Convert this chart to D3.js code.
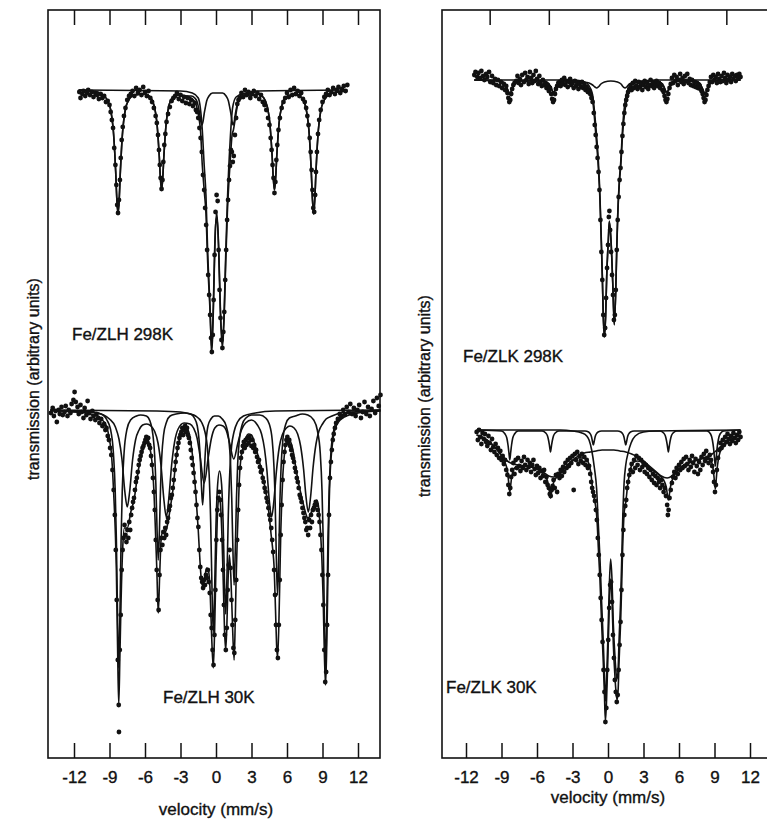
<!DOCTYPE html>
<html>
<head>
<meta charset="utf-8">
<script src="https://cdn.jsdelivr.net/npm/d3@7"></script>
<style>
  body { margin: 0; background: #fff; }
  svg { display: block; }
</style>
</head>
<body>
<svg id="chart" width="767" height="820"></svg>
<script>
// velocity (mm/s), transmission (arbitrary units, baseline = 100)

// ---- Fe/ZLH 298K ----
const zlh298Points = [[-11.55,99.8],[-11.45,99.2],[-11.3,99.6],[-11.2,99.9],[-11.05,99.4],[-10.9,99.7],[-10.8,100],[-10.65,99.5],[-10.5,99.8],[-10.35,99.3],[-10.2,99.7],[-10.05,99.5],[-9.9,99.1],[-9.75,99.6],[-9.6,99.2],[-9.45,99.4],[-9.3,98.8],[-9.15,98.9],[-9,98.5],[-8.9,97.8],[-8.8,97],[-8.7,96.2],[-8.6,94.2],[-8.5,92.5],[-8.42,90.5],[-8.35,88.5],[-8.28,87.7],[-8.2,89],[-8.12,91],[-8.05,93.2],[-7.97,95],[-7.88,96.3],[-7.78,97.4],[-7.65,98.2],[-7.5,99],[-7.35,99.4],[-7.2,99.6],[-7.05,99.9],[-6.9,99.4],[-6.75,100.2],[-6.6,99.7],[-6.45,100],[-6.3,99.5],[-6.15,100.3],[-6,99.8],[-5.85,99.4],[-5.7,99.9],[-5.55,99.2],[-5.4,98.8],[-5.25,98.2],[-5.1,97.4],[-5,96.7],[-4.9,95.5],[-4.82,94],[-4.75,92.5],[-4.68,91.2],[-4.6,90.1],[-4.52,91],[-4.45,92.8],[-4.37,94.5],[-4.28,95.6],[-4.18,96.8],[-4.05,97.6],[-3.9,98.3],[-3.75,98.9],[-3.6,99.2],[-3.45,99.4],[-3.3,99.7],[-3.15,99.1],[-3,99.5],[-2.85,98.9],[-2.7,99.3],[-2.55,98.7],[-2.4,99.2],[-2.25,98.6],[-2.1,99],[-1.95,98.4],[-1.8,98.7],[-1.7,98],[-1.6,97.8],[-1.5,97.2],[-1.4,96.2],[-1.3,95.2],[-1.2,93.8],[-1.1,91.5],[-1,90],[-0.92,88.2],[-0.83,86.5],[-0.75,84],[-0.66,81.5],[-0.58,79.5],[-0.5,77.5],[-0.42,75.2],[-0.35,73.8],[-0.27,75.5],[-0.2,79],[-0.12,83.5],[-0.04,87.8],[0.05,89.5],[0.14,88.9],[0.22,84],[0.3,80],[0.38,77.2],[0.46,75],[0.54,74.2],[0.62,75.8],[0.7,77.8],[0.78,81],[0.86,84],[0.94,87],[1.02,89],[1.1,91],[1.18,92.4],[1.26,94],[1.34,93.8],[1.42,92.8],[1.5,93.4],[1.6,95.5],[1.7,97.2],[1.8,98.6],[1.9,99],[2,99.2],[2.15,99.7],[2.3,99.3],[2.45,100],[2.6,99.5],[2.75,99.8],[2.9,99.2],[3.05,99.6],[3.2,99.9],[3.35,99.4],[3.5,99.7],[3.65,99.1],[3.8,99.5],[3.95,98.8],[4.1,98.5],[4.25,98],[4.4,97.2],[4.52,96.5],[4.62,95.2],[4.7,94],[4.78,92.5],[4.86,91.2],[4.94,89.7],[5.02,90.8],[5.1,93],[5.18,94.5],[5.28,96],[5.4,97.2],[5.55,98.2],[5.7,98.8],[5.85,99.2],[6,99.7],[6.15,99.3],[6.3,100],[6.45,99.5],[6.6,100.2],[6.75,99.6],[6.9,99.9],[7.05,99.4],[7.2,99.7],[7.35,99.1],[7.5,98.8],[7.62,98.2],[7.72,97.4],[7.82,96.5],[7.92,95.2],[8,93.8],[8.08,92],[8.15,90],[8.22,88.2],[8.3,87.8],[8.38,89.5],[8.45,91.8],[8.53,93.8],[8.62,95.6],[8.72,97],[8.85,98],[9,98.8],[9.15,99.3],[9.3,99.6],[9.45,100],[9.6,99.5],[9.75,99.8],[9.9,100.2],[10.05,99.6],[10.2,100],[10.35,100.3],[10.5,99.7],[10.65,100.1],[10.8,100.4],[10.95,99.9],[11.1,100.5]]

const zlh298Fit = [[-11.6,100],[-10,99.8],[-9.68,99.6],[-9.18,99],[-8.88,97.9],[-8.68,96],[-8.56,93.8],[-8.48,91.9],[-8.38,89.1],[-8.28,87.6],[-8.18,89.1],[-8.08,91.9],[-8,93.8],[-7.88,96],[-7.68,97.9],[-7.38,99],[-6.88,99.5],[-6,99.6],[-5.5,99.2],[-5.2,98.3],[-5,96.8],[-4.88,95],[-4.8,93.5],[-4.7,91.2],[-4.6,90],[-4.5,91.2],[-4.4,93.5],[-4.32,95],[-4.2,96.8],[-4,98.3],[-3.7,99.2],[-3.2,99.5],[-2.5,99.4],[-2,99.1],[-1.7,98.6],[-1.45,97.3],[-1.3,95.8],[-1.16,92.5],[-1,90],[-0.85,87.7],[-0.7,82.7],[-0.5,77.7],[-0.42,75],[-0.37,73.7],[-0.3,75],[-0.23,77.7],[-0.11,83.7],[-0.03,86.5],[0.06,87.3],[0.15,86.2],[0.23,83.7],[0.37,77.7],[0.47,75.2],[0.54,74.3],[0.62,75.5],[0.7,77.7],[0.82,82.7],[0.96,87.7],[1.1,91],[1.19,92.7],[1.36,95.5],[1.47,96],[1.65,97.3],[1.86,98.7],[2.2,99.3],[2.7,99.5],[3.3,99.5],[3.54,99.6],[4.04,99.2],[4.34,98.3],[4.54,96.8],[4.66,95],[4.74,93.5],[4.84,91.2],[4.94,90],[5.04,91.2],[5.14,93.5],[5.22,95],[5.34,96.8],[5.54,98.3],[5.84,99.2],[6.34,99.5],[6.85,99.5],[7.35,99],[7.65,97.9],[7.85,96],[7.97,93.8],[8.05,91.9],[8.15,89.1],[8.25,87.6],[8.35,89.1],[8.45,91.9],[8.53,93.8],[8.65,96],[8.85,97.9],[9.15,99],[9.65,99.6],[10.3,99.8],[11.1,99.9]]

const zlh298Sextet = [[-11.6,100],[-10,99.8],[-9.68,99.6],[-9.18,99],[-8.88,97.9],[-8.68,96],[-8.56,93.8],[-8.48,91.9],[-8.38,89.1],[-8.28,87.6],[-8.18,89.1],[-8.08,91.9],[-8,93.8],[-7.88,96],[-7.68,97.9],[-7.38,99],[-6.88,99.5],[-6,99.6],[-5.5,99.2],[-5.2,98.3],[-5,96.8],[-4.88,95],[-4.8,93.5],[-4.7,91.2],[-4.6,90],[-4.5,91.2],[-4.4,93.5],[-4.32,95],[-4.2,96.8],[-4,98.3],[-3.7,99.2],[-3.2,99.5],[-2.5,99.4],[-2.09,99.4],[-1.79,99.2],[-1.59,98.8],[-1.47,98.2],[-1.39,97.7],[-1.29,96.9],[-1.19,96.5],[-1.09,96.9],[-0.99,97.7],[-0.91,98.2],[-0.79,98.9],[-0.59,99.4],[-0.29,99.7],[0.1,99.7],[0.55,99.7],[0.85,99.4],[1.05,98.9],[1.17,98.2],[1.25,97.7],[1.35,96.9],[1.45,96.5],[1.55,96.9],[1.65,97.7],[1.73,98.2],[1.85,98.9],[2.05,99.4],[2.35,99.6],[2.7,99.5],[3.3,99.5],[3.54,99.6],[4.04,99.2],[4.34,98.3],[4.54,96.8],[4.66,95],[4.74,93.5],[4.84,91.2],[4.94,90],[5.04,91.2],[5.14,93.5],[5.22,95],[5.34,96.8],[5.54,98.3],[5.84,99.2],[6.34,99.5],[6.85,99.5],[7.35,99],[7.65,97.9],[7.85,96],[7.97,93.8],[8.05,91.9],[8.15,89.1],[8.25,87.6],[8.35,89.1],[8.45,91.9],[8.53,93.8],[8.65,96],[8.85,97.9],[9.15,99],[9.65,99.6],[10.3,99.8],[11.1,99.9]]

const zlh298Doublet = [[-11.6,100],[-3,99.9],[-2,99.7],[-1.5,99.2],[-1.16,96],[-1,92.5],[-0.85,89.5],[-0.7,83.7],[-0.5,78.2],[-0.37,74.2],[-0.23,78.2],[-0.11,84.2],[0.06,87.8],[0.23,84.2],[0.37,78.2],[0.54,74.8],[0.7,78.2],[0.82,83.5],[0.96,88.8],[1.19,94.8],[1.4,98.2],[1.7,99.3],[2.5,99.7],[3.5,99.9],[11.1,100]]

// ---- Fe/ZLH 30K ----
const zlh30Points = [[-13.95,99.7],[-13.8,100.2],[-13.7,99.4],[-13.55,99.9],[-13.45,98.8],[-13.3,100],[-13.2,99.6],[-13.05,100.3],[-12.95,99.5],[-12.8,99.8],[-12.7,100.4],[-12.55,99.4],[-12.45,100],[-12.3,99.7],[-12.2,100.6],[-12.05,101],[-11.95,101.8],[-11.85,100.8],[-11.7,100.3],[-11.6,99.6],[-11.45,100.5],[-11.35,99.8],[-11.2,99.2],[-11.1,100.2],[-10.95,99.5],[-10.85,100.9],[-10.7,99.7],[-10.6,99.1],[-10.45,99.9],[-10.35,99.4],[-10.2,99],[-10.1,99.6],[-9.95,99.2],[-9.85,98.7],[-9.7,99.1],[-9.6,98.4],[-9.45,98.6],[-9.35,98],[-9.25,98.2],[-9.15,97.4],[-9.05,97],[-8.95,96.2],[-8.85,95.5],[-8.75,94],[-8.65,92],[-8.55,89.5],[-8.47,86],[-8.39,81],[-8.3,75],[-8.22,70.5],[-8.2,67.8],[-8.13,76],[-8.05,79.5],[-7.97,84],[-7.89,86],[-7.81,87.2],[-7.73,88.5],[-7.65,87.5],[-7.57,86.8],[-7.49,88],[-7.41,87.2],[-7.33,88.8],[-7.25,88],[-7.17,89.5],[-7.09,90.2],[-7.01,90.8],[-6.93,91.2],[-6.85,92],[-6.77,92.8],[-6.69,93.2],[-6.61,93.8],[-6.53,94.5],[-6.45,95],[-6.37,95.4],[-6.29,95.8],[-6.21,96.2],[-6.13,96.4],[-6.05,96.7],[-5.97,97],[-5.89,97.3],[-5.81,96.8],[-5.73,97.2],[-5.65,96.5],[-5.57,96.2],[-5.49,95.4],[-5.41,94.5],[-5.33,93.2],[-5.25,91.8],[-5.17,90],[-5.09,87],[-5.01,84],[-4.93,81],[-4.85,80],[-4.77,83.5],[-4.69,86],[-4.61,87.2],[-4.53,86.5],[-4.45,87.8],[-4.37,87.2],[-4.29,88.2],[-4.21,87.5],[-4.13,88.8],[-4.05,89.2],[-3.97,90],[-3.89,90.4],[-3.81,91.2],[-3.73,91.5],[-3.65,92.2],[-3.57,93],[-3.49,94],[-3.41,94.8],[-3.33,95.5],[-3.25,96.2],[-3.17,96.7],[-3.09,97.2],[-3.01,97.5],[-2.93,97.8],[-2.85,98.2],[-2.77,97.5],[-2.69,98],[-2.61,98.4],[-2.53,97.8],[-2.45,98.2],[-2.37,97.5],[-2.29,97.2],[-2.21,96.7],[-2.13,96],[-2.05,95.2],[-1.97,94.5],[-1.89,93.7],[-1.81,92.8],[-1.73,91.8],[-1.65,90.5],[-1.57,89.2],[-1.49,88.3],[-1.41,86],[-1.33,84.3],[-1.25,83.2],[-1.17,82.8],[-1.09,82.2],[-1.01,83],[-0.93,82.5],[-0.85,83.5],[-0.77,83.2],[-0.69,84],[-0.61,82.8],[-0.53,81.7],[-0.45,79.5],[-0.37,78.2],[-0.29,76],[-0.21,74.5],[-0.13,77.5],[-0.05,82],[0.03,87],[0.11,90],[0.19,91.2],[0.27,91.8],[0.35,91],[0.43,89.5],[0.51,87],[0.59,84],[0.67,80.5],[0.75,77.5],[0.83,76],[0.91,78.2],[0.99,82],[1.07,84.5],[1.15,86],[1.23,84.2],[1.31,81],[1.39,78.5],[1.47,76.2],[1.55,75.7],[1.63,79],[1.71,83],[1.79,87],[1.87,90],[1.95,92.5],[2.03,94.2],[2.11,95.2],[2.19,95.8],[2.27,96.4],[2.35,96.8],[2.43,96.2],[2.51,97],[2.59,96.5],[2.67,97.2],[2.75,96.7],[2.83,97.3],[2.91,97],[2.99,96.4],[3.07,97],[3.15,96.2],[3.23,96.5],[3.31,95.8],[3.39,96],[3.47,95.3],[3.55,94.8],[3.63,95],[3.71,94.3],[3.79,93.8],[3.87,94],[3.95,93.2],[4.03,92.8],[4.11,92.2],[4.19,91.8],[4.27,91.2],[4.35,90.8],[4.43,90.2],[4.51,89.5],[4.59,89],[4.67,88.2],[4.75,87],[4.83,85.8],[4.91,84],[4.99,81.5],[5.07,78.5],[5.15,76],[5.23,75.2],[5.31,78.5],[5.39,83],[5.47,87.5],[5.55,90.5],[5.63,93],[5.71,94.8],[5.79,95.8],[5.87,96.5],[5.95,97],[6.03,97.3],[6.11,96.7],[6.19,97],[6.27,96.4],[6.35,96],[6.43,95.5],[6.51,95.2],[6.59,94.8],[6.67,94.2],[6.75,93.8],[6.83,93.2],[6.91,92.8],[6.99,92.2],[7.07,91.5],[7.15,91.2],[7.23,90.8],[7.31,90.2],[7.39,89.7],[7.47,89.2],[7.55,88.8],[7.63,88],[7.71,88.2],[7.79,87.5],[7.87,89],[7.95,88.2],[8.03,89.5],[8.11,88.8],[8.19,90],[8.27,90.2],[8.35,90.5],[8.43,90.8],[8.51,90.5],[8.59,90],[8.67,89.5],[8.75,88.8],[8.83,87.5],[8.91,86],[8.99,83.5],[9.07,80.5],[9.15,76],[9.23,72.8],[9.31,73.8],[9.39,78.5],[9.47,83.5],[9.55,89.5],[9.63,93.2],[9.71,94.8],[9.79,96],[9.87,97],[9.95,97.6],[10.05,98.2],[10.15,98.7],[10.3,99.1],[10.45,99.6],[10.6,99.3],[10.75,100],[10.9,99.5],[11.05,100.3],[11.2,99.8],[11.35,100.6],[11.5,99.6],[11.65,100.2],[11.8,99.4],[11.95,100],[12.1,100.5],[12.25,99.2],[12.4,99.8],[12.55,100.8],[12.7,99.6],[12.85,100.3],[13,99.4],[13.15,100.1],[13.3,100.9],[13.45,99.7],[13.6,101.2],[13.75,100.4],[13.9,101.5]]

const zlh30Fit = [[-14,99.9],[-13,99.9],[-12,99.8],[-11,99.7],[-10.5,99.5],[-10,99.4],[-9.7,99.1],[-9.4,98.7],[-9.2,98.2],[-9,97],[-8.85,95.8],[-8.73,93.7],[-8.6,90.5],[-8.5,87.5],[-8.42,84],[-8.32,76.5],[-8.22,70.5],[-8.12,75.5],[-8.02,81],[-7.88,86.3],[-7.74,88.2],[-7.5,88.2],[-7.2,89.8],[-6.9,91.2],[-6.6,93.7],[-6.4,95],[-6.19,96],[-5.95,96.8],[-5.76,97],[-5.55,96],[-5.4,94.7],[-5.25,92],[-5.14,88.7],[-5,84],[-4.88,79.7],[-4.76,83.5],[-4.63,87.2],[-4.5,87.8],[-4.35,87.7],[-4.2,88],[-4.07,88.7],[-3.85,90.3],[-3.64,92],[-3.36,95.3],[-3.1,97],[-2.94,97.6],[-2.7,98.2],[-2.52,98.2],[-2.3,97.8],[-2.1,96.5],[-1.9,94.5],[-1.7,91.5],[-1.5,88],[-1.36,85],[-1.22,82.8],[-1.1,82.4],[-0.95,83.2],[-0.8,84.2],[-0.65,84],[-0.5,82],[-0.38,77.8],[-0.23,74.2],[-0.12,77.8],[0,84.5],[0.1,88.8],[0.2,91],[0.28,91.4],[0.38,90.5],[0.5,87.5],[0.62,82.5],[0.72,78],[0.82,76],[0.92,78.5],[1.02,83],[1.13,85.5],[1.25,83.5],[1.38,79],[1.53,75],[1.62,78.5],[1.69,82.5],[1.8,87.3],[1.89,90.3],[1.97,93],[2.09,95],[2.32,96.4],[2.55,97.3],[2.74,97.6],[3,97.5],[3.3,96.5],[3.6,95.2],[3.87,93.8],[4.1,92.5],[4.3,91.3],[4.5,89.4],[4.66,87.5],[4.8,86],[4.9,84.5],[5.03,80],[5.12,76.5],[5.2,75.2],[5.3,78],[5.4,83.5],[5.48,88],[5.56,91],[5.65,93.5],[5.8,95.8],[5.99,97],[6.2,97],[6.4,96.5],[6.55,95.7],[6.75,94.2],[6.97,92.7],[7.2,91.5],[7.4,90.5],[7.6,89.6],[7.74,89.2],[7.95,89.4],[8.11,90],[8.3,90.5],[8.53,91],[8.7,90],[8.81,88.2],[8.95,85],[9.06,81],[9.16,75.5],[9.26,72.5],[9.36,76.5],[9.46,83.5],[9.56,90.5],[9.66,94],[9.8,96.2],[9.94,97.5],[10.2,98.5],[10.5,99],[11,99.4],[12,99.7],[13.9,99.9]]

const zlh30Sharp = [[-14,100],[-12.5,99.9],[-10.72,99.8],[-9.72,99.6],[-9.22,99],[-8.92,98.1],[-8.67,95.7],[-8.52,92],[-8.42,87.1],[-8.32,79.4],[-8.22,74.2],[-8.12,79.4],[-8.02,87.1],[-7.92,92],[-7.77,95.7],[-7.52,98.1],[-7.22,99],[-6.72,99.4],[-6.38,99.5],[-5.88,99.4],[-5.58,98.9],[-5.33,97.5],[-5.18,95.4],[-5.08,92.5],[-4.98,88],[-4.88,85],[-4.78,88],[-4.68,92.5],[-4.58,95.4],[-4.43,97.5],[-4.18,98.8],[-3.88,99.4],[-3.38,99.6],[-2.63,99.7],[-2.13,99.6],[-1.83,99.2],[-1.58,98.4],[-1.43,97],[-1.33,95.2],[-1.23,92.4],[-1.13,90.5],[-1.03,92.4],[-0.93,95.2],[-0.83,97],[-0.68,98.4],[-0.43,99.1],[-0.13,99.4],[0.2,99.4],[0.53,99.1],[0.83,98.5],[1.08,97.1],[1.23,94.6],[1.33,91.2],[1.43,86],[1.53,82.5],[1.63,86],[1.73,91.2],[1.83,94.6],[1.98,97.1],[2.23,98.6],[2.53,99.2],[3,99.5],[3.7,99.5],[4.2,99.2],[4.5,98.6],[4.75,97],[4.9,94.3],[5,90.8],[5.1,85.2],[5.2,81.5],[5.3,85.2],[5.4,90.8],[5.5,94.3],[5.65,97],[5.9,98.6],[6.2,99.2],[6.7,99.4],[7.3,99.6],[7.76,99.5],[8.26,99],[8.56,98],[8.81,95.7],[8.96,91.9],[9.06,87],[9.16,79.2],[9.26,74],[9.36,79.2],[9.46,87],[9.56,91.9],[9.71,95.7],[9.96,98],[10.26,99],[10.76,99.6],[11.76,99.8],[13.9,100]]

const zlh30Broad = [[-14,100],[-11,99.8],[-10.5,99.8],[-10,99.7],[-9.5,99.5],[-9,99.1],[-8.5,98.3],[-8.2,97.1],[-7.95,95.1],[-7.7,91.8],[-7.5,90.3],[-7.3,91.8],[-7.05,95],[-6.8,97],[-6.5,98],[-6.2,98.5],[-5.85,98.6],[-5.5,98.4],[-5.2,97.9],[-4.9,96.7],[-4.65,94.5],[-4.4,91],[-4.2,89.3],[-4,91],[-3.75,94.5],[-3.5,96.8],[-3.2,98.1],[-2.7,98.7],[-2.2,98.6],[-1.9,98.2],[-1.6,97.2],[-1.35,95.4],[-1,92.7],[-0.65,95.3],[-0.4,97.1],[-0.1,98.2],[0.25,98.5],[0.6,98.4],[0.85,98],[1.15,96.7],[1.5,95.1],[1.85,96.7],[2.15,98],[2.5,98.7],[3,99],[3.5,98.5],[3.85,97.6],[4.1,96.1],[4.3,94],[4.5,91],[4.7,89.3],[4.9,91],[5.1,93.8],[5.35,96.3],[5.6,97.5],[5.95,98.2],[6.25,98.4],[6.6,98.2],[6.9,97.6],[7.15,96.4],[7.4,94.1],[7.6,91.4],[7.8,89.8],[8,91.4],[8.2,94.2],[8.45,96.6],[8.7,97.9],[9,98.6],[9.3,99.1],[9.8,99.4],[10.5,99.7],[11.5,99.8],[13.9,99.9]]

const zlh30Doublet = [[-14,100],[-5,99.9],[-3,99.8],[-2.2,99.6],[-1.73,99.4],[-1.23,98.8],[-0.93,97.8],[-0.73,96.3],[-0.58,93.6],[-0.45,88.8],[-0.33,81.7],[-0.23,77.7],[-0.13,81.3],[-0.01,88.1],[0.12,92.2],[0.3,93.9],[0.47,92.6],[0.6,88.8],[0.72,82.7],[0.82,79.6],[0.92,83],[1.04,89.5],[1.17,93.9],[1.32,96.4],[1.52,97.8],[1.82,98.8],[2.32,99.4],[3.32,99.7],[5,99.9],[13.9,100]]

// ---- Fe/ZLK 298K ----
const zlk298Points = [[-11.3,100.5],[-11.2,100.8],[-11.05,100.3],[-10.95,100.7],[-10.8,100.2],[-10.7,100.9],[-10.55,100.4],[-10.45,100],[-10.3,100.6],[-10.2,100.3],[-10.05,100.8],[-9.95,99.8],[-9.8,100.4],[-9.7,99.7],[-9.55,100.1],[-9.45,99.5],[-9.3,100],[-9.2,99.4],[-9.05,99.8],[-8.95,99.2],[-8.8,99.6],[-8.7,99],[-8.6,99.4],[-8.5,98.7],[-8.42,98.2],[-8.34,97.8],[-8.26,98],[-8.18,98.6],[-8.1,99.1],[-8,99.5],[-7.9,99.7],[-7.75,99.9],[-7.65,100.4],[-7.55,99.7],[-7.45,100.1],[-7.35,99.5],[-7.25,100.5],[-7.1,99.8],[-7,100.7],[-6.9,100],[-6.8,100.3],[-6.7,99.6],[-6.6,100.8],[-6.5,100.2],[-6.4,99.7],[-6.3,100.5],[-6.2,99.9],[-6.1,100.9],[-6,100.1],[-5.9,99.6],[-5.8,100.4],[-5.7,99.8],[-5.6,99.4],[-5.5,100],[-5.4,99.5],[-5.3,99.7],[-5.2,99.2],[-5.1,99.5],[-5,98.9],[-4.9,99.2],[-4.8,98.6],[-4.72,98.1],[-4.64,97.8],[-4.56,98],[-4.48,98.6],[-4.4,99.1],[-4.3,99.4],[-4.2,99.7],[-4.1,99.8],[-4,99.4],[-3.9,100],[-3.8,99.6],[-3.7,100.2],[-3.6,99.5],[-3.5,99.9],[-3.4,99.3],[-3.3,99.8],[-3.2,100.1],[-3.1,99.5],[-3,99.7],[-2.9,99.2],[-2.8,99.9],[-2.7,99.4],[-2.6,99.7],[-2.5,99.1],[-2.4,99.6],[-2.3,99.3],[-2.2,99.8],[-2.1,99.2],[-2,99.5],[-1.9,99],[-1.8,99.3],[-1.7,98.8],[-1.6,99],[-1.5,98.6],[-1.4,98.2],[-1.3,97.8],[-1.2,96.7],[-1.12,95.5],[-1.04,94.5],[-0.96,93.3],[-0.88,92.2],[-0.8,90.8],[-0.72,89],[-0.64,86],[-0.56,82.8],[-0.48,80],[-0.4,76.5],[-0.32,74.5],[-0.24,75.2],[-0.16,78.2],[-0.08,81.2],[0,83.5],[0.07,86.3],[0.12,86.9],[0.18,85],[0.26,82.8],[0.34,80.5],[0.42,78.5],[0.5,76],[0.58,76.5],[0.66,79],[0.74,83],[0.82,86],[0.9,88.3],[0.98,90],[1.06,91.2],[1.14,92.8],[1.22,94.4],[1.3,95.6],[1.38,96.7],[1.46,97.5],[1.54,98],[1.62,98.4],[1.7,98.8],[1.8,99.1],[1.9,99.4],[2,99],[2.1,99.7],[2.2,99.2],[2.3,99.9],[2.4,99.4],[2.5,99.1],[2.6,99.8],[2.7,99.3],[2.8,99.6],[2.9,99],[3,99.5],[3.1,99.9],[3.2,99.3],[3.3,99.7],[3.4,99.1],[3.5,99.5],[3.6,100],[3.7,99.4],[3.8,99.7],[3.9,99.2],[4,99.6],[4.1,99.9],[4.2,99.4],[4.3,99.7],[4.4,99.2],[4.5,99.5],[4.6,99],[4.7,98.8],[4.78,98.4],[4.86,98],[4.94,97.8],[5.02,98.1],[5.1,98.6],[5.2,99.2],[5.3,99.6],[5.4,100.2],[5.5,99.7],[5.6,100.5],[5.7,99.9],[5.8,100.3],[5.9,99.5],[6,100],[6.1,100.6],[6.2,99.8],[6.3,100.2],[6.4,99.6],[6.5,100.4],[6.6,99.9],[6.7,100.6],[6.8,99.7],[6.9,100.1],[7,99.5],[7.1,100],[7.2,99.4],[7.3,99.8],[7.4,99.3],[7.5,99.7],[7.6,99.2],[7.7,99.5],[7.8,99.1],[7.9,98.9],[8,98.6],[8.08,98.2],[8.16,97.8],[8.24,98],[8.32,98.5],[8.4,99],[8.5,99.4],[8.6,99.8],[8.7,100.3],[8.8,99.8],[8.9,100.5],[9,100],[9.1,100.3],[9.2,99.7],[9.3,100.6],[9.4,100.1],[9.5,99.8],[9.6,100.4],[9.7,99.9],[9.8,100.7],[9.9,100.2],[10,99.7],[10.1,100.5],[10.2,100],[10.3,100.3],[10.4,99.8],[10.5,100.6],[10.6,100.1],[10.7,100.4],[10.8,99.9],[10.9,100.5],[11,100.2],[11.1,100.6],[11.2,100.3]]

const zlk298Fit = [[-11.3,100],[-9.2,99.9],[-8.9,99.8],[-8.7,99.6],[-8.58,99.3],[-8.5,99.1],[-8.4,98.8],[-8.3,98.6],[-8.2,98.8],[-8.1,99.1],[-8.02,99.3],[-7.9,99.6],[-7.7,99.8],[-7.4,99.9],[-5.5,99.9],[-5.2,99.8],[-5,99.6],[-4.88,99.4],[-4.8,99.2],[-4.7,98.9],[-4.6,98.8],[-4.5,98.9],[-4.4,99.2],[-4.32,99.4],[-4.2,99.6],[-4,99.8],[-3.7,99.9],[-3,99.9],[-2.2,99.7],[-1.8,99.4],[-1.5,98.8],[-1.3,98],[-1.04,94.7],[-0.82,91.3],[-0.68,88],[-0.6,85],[-0.48,80.3],[-0.4,76.3],[-0.3,74.3],[-0.2,76.3],[-0.11,80.3],[0.03,84],[0.11,85.8],[0.25,84],[0.4,79.7],[0.53,75.5],[0.65,78.7],[0.74,83],[0.82,86.3],[0.96,89.7],[1.07,91.3],[1.24,94.7],[1.58,98],[1.9,99],[2.3,99.5],[3,99.8],[4.07,99.9],[4.37,99.8],[4.57,99.6],[4.69,99.4],[4.77,99.2],[4.87,98.9],[4.97,98.8],[5.07,98.9],[5.17,99.2],[5.25,99.4],[5.37,99.6],[5.57,99.8],[5.9,99.9],[7.3,99.9],[7.6,99.8],[7.8,99.6],[7.92,99.3],[8,99.1],[8.1,98.8],[8.2,98.6],[8.3,98.8],[8.4,99.1],[8.48,99.3],[8.6,99.6],[8.8,99.8],[9.1,99.9],[11.2,100]]

const zlk298Sextet = [[-11.3,100],[-9.2,99.9],[-8.9,99.8],[-8.7,99.6],[-8.58,99.3],[-8.5,99.1],[-8.4,98.8],[-8.3,98.6],[-8.2,98.8],[-8.1,99.1],[-8.02,99.3],[-7.9,99.6],[-7.7,99.8],[-7.4,99.9],[-5.5,99.9],[-5.2,99.8],[-5,99.6],[-4.88,99.4],[-4.8,99.2],[-4.7,98.9],[-4.6,98.8],[-4.5,98.9],[-4.4,99.2],[-4.32,99.4],[-4.2,99.6],[-4,99.8],[-3.7,99.9],[-3,99.9],[-2.2,99.8],[-1.6,99.7],[-1.3,99.5],[-1.1,99.3],[-0.96,99.2],[-0.82,99.3],[-0.6,99.6],[-0.3,99.8],[0.24,99.9],[0.8,99.8],[1.1,99.6],[1.3,99.3],[1.44,99.2],[1.58,99.3],[1.8,99.6],[2.3,99.8],[3,99.9],[4.07,99.9],[4.37,99.8],[4.57,99.6],[4.69,99.4],[4.77,99.2],[4.87,98.9],[4.97,98.8],[5.07,98.9],[5.17,99.2],[5.25,99.4],[5.37,99.6],[5.57,99.8],[5.9,99.9],[7.3,99.9],[7.6,99.8],[7.8,99.6],[7.92,99.3],[8,99.1],[8.1,98.8],[8.2,98.6],[8.3,98.8],[8.4,99.1],[8.48,99.3],[8.6,99.6],[8.8,99.8],[9.1,99.9],[11.2,100]]

const zlk298Doublet = [[-11.3,100],[-3,100],[-2.2,99.9],[-1.8,99.7],[-1.5,99.2],[-1.3,98.5],[-1.04,95.5],[-0.82,92],[-0.68,88.4],[-0.6,85.4],[-0.48,80.5],[-0.4,76.5],[-0.3,74.5],[-0.2,76.5],[-0.11,80.4],[0.03,84.1],[0.11,85.9],[0.25,84.1],[0.4,79.8],[0.53,75.6],[0.65,78.8],[0.74,83.2],[0.82,86.5],[0.96,90],[1.07,91.7],[1.24,95.3],[1.58,98.7],[1.9,99.4],[2.3,99.7],[3,99.9],[4,100],[11.2,100]]

// ---- Fe/ZLK 30K ----
const zlk30Points = [[-11.1,99.8],[-11,99],[-10.9,100],[-10.8,99.3],[-10.7,98.6],[-10.6,99.7],[-10.5,99.1],[-10.4,99.6],[-10.3,98.8],[-10.2,98.4],[-10.1,99.4],[-10,98.7],[-9.9,98],[-9.8,99.1],[-9.7,98.3],[-9.6,97.8],[-9.5,98.6],[-9.4,97.5],[-9.3,98.2],[-9.2,97.2],[-9.1,97.9],[-9,97],[-8.9,97.4],[-8.8,96.6],[-8.7,97],[-8.6,96],[-8.5,95.5],[-8.42,94.5],[-8.34,93.6],[-8.26,94.2],[-8.18,95.3],[-8.1,96],[-8,96.7],[-7.9,95.6],[-7.8,97],[-7.7,96.2],[-7.6,97.2],[-7.5,96.4],[-7.4,95.9],[-7.3,96.9],[-7.2,96.2],[-7.1,97.3],[-7,96.5],[-6.9,96],[-6.8,97],[-6.7,96.3],[-6.6,96.7],[-6.5,95.8],[-6.4,96.5],[-6.3,97],[-6.2,96.1],[-6.1,95.5],[-6,96.4],[-5.9,95.7],[-5.8,96.2],[-5.7,95.2],[-5.6,95.9],[-5.5,95.4],[-5.4,96],[-5.3,94.8],[-5.2,95.3],[-5.1,94.5],[-5,94.2],[-4.92,93.6],[-4.84,93.4],[-4.76,94],[-4.68,94.4],[-4.6,95],[-4.5,94.2],[-4.4,95.5],[-4.3,93.8],[-4.2,95.6],[-4.1,95.2],[-4,96],[-3.9,95.4],[-3.8,96.3],[-3.7,95.8],[-3.6,96.7],[-3.5,96.2],[-3.4,97],[-3.3,96.4],[-3.2,97.2],[-3.1,96.7],[-3,97.4],[-2.9,94],[-2.8,97.6],[-2.7,97],[-2.6,97.8],[-2.5,96.6],[-2.4,97.4],[-2.3,96.9],[-2.2,97.6],[-2.1,96.7],[-2,97.3],[-1.9,96.5],[-1.8,97],[-1.7,96.2],[-1.6,96.4],[-1.5,95.6],[-1.42,94.8],[-1.34,94.2],[-1.26,93.8],[-1.18,93.4],[-1.1,92.9],[-1.02,92],[-0.94,91],[-0.86,89.2],[-0.78,87.5],[-0.7,85.5],[-0.62,83.2],[-0.54,81],[-0.46,78.8],[-0.38,76],[-0.3,73.8],[-0.22,70.8],[-0.14,72.2],[-0.06,76],[0.02,79],[0.1,82.2],[0.18,84.5],[0.26,84.8],[0.34,82.8],[0.42,79.5],[0.5,77.2],[0.58,75],[0.66,73.8],[0.74,72.8],[0.82,73.5],[0.9,76],[0.98,78.5],[1.06,80.8],[1.14,84],[1.22,87.5],[1.3,90],[1.38,91.5],[1.46,92.4],[1.54,93],[1.62,94.2],[1.7,94.8],[1.8,95.5],[1.9,96],[2,96.6],[2.1,95.8],[2.2,97],[2.3,96.2],[2.4,97.4],[2.5,96.5],[2.6,97.2],[2.7,96],[2.8,97],[2.9,96.3],[3,96.7],[3.1,95.8],[3.2,96.5],[3.3,95.6],[3.4,96.2],[3.5,95.3],[3.6,96],[3.7,95],[3.8,95.6],[3.9,94.7],[4,95.4],[4.1,94.5],[4.2,95.2],[4.3,94.8],[4.4,94.2],[4.5,95],[4.6,94.5],[4.7,93.8],[4.8,94.2],[4.9,93.4],[5,92.5],[5.06,91.5],[5.12,92],[5.2,93.2],[5.3,94],[5.4,94.7],[5.5,95.3],[5.6,95.8],[5.7,95.2],[5.8,96.2],[5.9,95.6],[6,96.5],[6.1,96],[6.2,96.8],[6.3,96.2],[6.4,97.1],[6.5,96.4],[6.6,97.3],[6.7,96.6],[6.8,96],[6.9,97],[7,96.3],[7.1,97.4],[7.2,96.7],[7.3,95.8],[7.4,97.1],[7.5,96.4],[7.6,95.6],[7.7,96.8],[7.8,96],[7.9,97.3],[8,96.5],[8.1,97.6],[8.2,96.9],[8.3,97.9],[8.4,97.2],[8.5,96.7],[8.6,97.5],[8.7,97],[8.8,96.4],[8.88,95.8],[8.96,94.8],[9.04,93.8],[9.12,94.5],[9.2,96],[9.3,97.2],[9.4,98],[9.5,98.7],[9.6,98.2],[9.7,99],[9.8,98.5],[9.9,99.3],[10,98.8],[10.1,99.6],[10.2,99.1],[10.3,98.6],[10.4,99.4],[10.5,98.9],[10.6,99.7],[10.7,99.2],[10.8,98.7],[10.9,99.5],[11,99],[11.1,99.8],[11.2,99.3]]

const zlk30Fit = [[-11.1,99.5],[-10.5,99.2],[-10,98.8],[-9.5,98.2],[-9,97.4],[-8.7,96.7],[-8.55,96.2],[-8.45,95.4],[-8.38,94.6],[-8.3,93.8],[-8.22,94.5],[-8.15,95.2],[-8.05,95.8],[-7.9,96.2],[-7.6,96.4],[-7,96.4],[-6.5,96.3],[-6,96.1],[-5.56,95.7],[-5.26,95.3],[-5.11,94.9],[-5.01,94.3],[-4.94,93.8],[-4.86,93.2],[-4.78,93.7],[-4.71,94.2],[-4.61,94.7],[-4.46,95.1],[-4.16,95.4],[-3.8,96],[-3.4,96.5],[-3,96.9],[-2.5,97.2],[-2.2,97.2],[-1.94,97.2],[-1.8,97],[-1.64,96.7],[-1.49,96],[-1.39,95.1],[-1.32,94.3],[-1.24,93.4],[-1.16,93.2],[-1.09,92.7],[-0.99,91.9],[-0.9,90.4],[-0.82,88.3],[-0.68,85],[-0.54,80.7],[-0.4,76.8],[-0.3,73.5],[-0.22,70.9],[-0.12,73],[0,77.6],[0.1,82],[0.22,85.1],[0.34,83],[0.45,78.6],[0.6,75.1],[0.7,73.5],[0.77,73],[0.86,74.1],[0.93,76.7],[1.07,80.9],[1.16,84.6],[1.24,88.3],[1.3,90.2],[1.36,91.7],[1.42,92.2],[1.5,92.8],[1.58,93.6],[1.65,94.4],[1.75,95.2],[1.9,96.1],[2.2,96.8],[2.5,96.9],[3,96.7],[3.5,96.2],[4,95.8],[4.4,95.4],[4.7,95],[4.85,94.6],[4.95,94.1],[5.02,93.5],[5.1,93],[5.18,93.5],[5.25,94.1],[5.35,94.7],[5.5,95.2],[5.8,95.8],[6.3,96.4],[6.8,96.7],[7.3,96.9],[7.8,97.1],[8.37,97.2],[8.67,97.1],[8.82,96.5],[8.92,95.8],[8.99,94.9],[9.07,94.1],[9.15,95.1],[9.22,96.1],[9.32,97],[9.47,97.8],[9.77,98.4],[10.3,99],[10.8,99.3],[11.2,99.5]]

const zlk30Sextet = [[-11.1,100],[-9,99.9],[-8.7,99.6],[-8.55,99.2],[-8.45,98.5],[-8.38,97.8],[-8.3,97],[-8.22,97.8],[-8.15,98.5],[-8.05,99.2],[-7.9,99.6],[-7.6,99.9],[-5.56,99.9],[-5.26,99.7],[-5.11,99.4],[-5.01,98.9],[-4.94,98.4],[-4.86,97.8],[-4.78,98.4],[-4.71,98.9],[-4.61,99.4],[-4.46,99.7],[-4.16,99.9],[-1.94,99.9],[-1.64,99.8],[-1.49,99.6],[-1.39,99.3],[-1.32,98.9],[-1.24,98.5],[-1.16,98.9],[-1.09,99.3],[-0.99,99.6],[-0.84,99.8],[-0.54,99.9],[0.8,99.9],[1.1,99.8],[1.25,99.6],[1.35,99.3],[1.42,98.9],[1.5,98.5],[1.58,98.9],[1.65,99.3],[1.75,99.6],[1.9,99.8],[2.2,99.9],[4.4,99.9],[4.7,99.7],[4.85,99.4],[4.95,98.9],[5.02,98.4],[5.1,97.8],[5.18,98.4],[5.25,98.9],[5.35,99.4],[5.5,99.7],[5.8,99.9],[8.37,99.9],[8.67,99.6],[8.82,99],[8.92,98.2],[8.99,97.3],[9.07,96.4],[9.15,97.3],[9.22,98.2],[9.32,99],[9.47,99.6],[9.77,99.9],[11.2,100]]

const zlk30Broad = [[-11.1,99.5],[-10.5,99.2],[-10,98.8],[-9.5,98.2],[-9,97.5],[-8.5,96.9],[-8,96.6],[-7.5,96.5],[-7,96.4],[-6.5,96.3],[-6,96.1],[-5.5,95.8],[-5,95.4],[-4.6,95.3],[-4.2,95.5],[-3.8,96],[-3.4,96.5],[-3,97],[-2.5,97.4],[-2,97.7],[-1.5,97.8],[-1,97.9],[-0.5,98],[0,98],[0.5,98],[1,97.9],[1.5,97.8],[2,97.6],[2.5,97.3],[3,96.9],[3.5,96.4],[4,95.9],[4.5,95.4],[5,95.2],[5.4,95.4],[5.8,95.9],[6.3,96.4],[6.8,96.7],[7.3,96.9],[7.8,97.1],[8.3,97.3],[8.8,97.6],[9.3,98.1],[9.8,98.6],[10.3,99],[10.8,99.3],[11.2,99.5]]

const zlk30Doublet = [[-11.1,100],[-4,100],[-3,99.9],[-2.2,99.7],[-1.8,99.4],[-1.6,99],[-1.38,98],[-1.15,96.2],[-0.96,94.1],[-0.82,90.6],[-0.68,87.2],[-0.54,82.8],[-0.4,78.8],[-0.3,75.5],[-0.22,72.9],[-0.12,75],[0,79.6],[0.1,84],[0.22,87.1],[0.34,85],[0.45,80.6],[0.6,77.1],[0.7,75.5],[0.77,75.1],[0.86,76.2],[0.93,78.8],[1.07,83.1],[1.16,87.1],[1.24,90.9],[1.36,94.7],[1.5,96.5],[1.72,97.8],[1.95,98.7],[2.3,99.4],[3,99.8],[4,99.9],[11.2,100]]

// axes
const bottomTicks = [-12, -9, -6, -3, 0, 3, 6, 9, 12]
const topTicksLeft = [-12, -9, -6, -3, 0, 3, 6, 9, 12]
const topTicksRight = [-10, -5, 0, 5, 10]

const FONT = "'Liberation Sans', Arial, Helvetica, sans-serif"
const INK = '#111'
const frameTop = 10, frameBottom = 758

const panels = [
  { left: 48, right: 380, r0: 74, r1: 358, topTicks: topTicksLeft, xTitleY: 815, yTitleX: 39, yTitleY: 379 },
  { left: 442, right: 776, r0: 466, r1: 750, topTicks: topTicksRight, xTitleY: 803, yTitleX: 430, yTitleY: 396 }
]

const spectra = [
  { panel: 0, base: 90, points: zlh298Points, curves: [zlh298Doublet, zlh298Sextet, zlh298Fit], name: 'Fe/ZLH 298K', lx: 72, ly: 340 },
  { panel: 0, base: 410, points: zlh30Points, curves: [zlh30Doublet, zlh30Broad, zlh30Sharp, zlh30Fit], name: 'Fe/ZLH 30K', lx: 163, ly: 703 },
  { panel: 1, base: 80, points: zlk298Points, curves: [zlk298Doublet, zlk298Sextet, zlk298Fit], name: 'Fe/ZLK 298K', lx: 463, ly: 362 },
  { panel: 1, base: 430, points: zlk30Points, curves: [zlk30Doublet, zlk30Broad, zlk30Sextet, zlk30Fit], name: 'Fe/ZLK 30K', lx: 446, ly: 693 }
]

const svg = d3.select('#chart')

// scanned-print look: text drawn with a hairline outline
const inkText = sel => sel
  .attr('font-family', FONT).attr('fill', INK)
  .attr('stroke', INK).attr('stroke-width', 0.35)

panels.forEach(p => {
  p.x = d3.scaleLinear().domain([-12, 12]).range([p.r0, p.r1])
  const g = svg.append('g')

  // frame
  g.append('rect')
    .attr('x', p.left).attr('y', frameTop)
    .attr('width', p.right - p.left).attr('height', frameBottom - frameTop)
    .attr('fill', 'none').attr('stroke', INK).attr('stroke-width', 1.6)

  // bottom ticks pointing inward, with labels
  const bottomAxis = g.append('g')
    .attr('transform', `translate(0,${frameBottom})`)
    .call(d3.axisBottom(p.x).tickValues(bottomTicks).tickSizeInner(-15).tickSizeOuter(0)
      .tickPadding(13).tickFormat(d => String(d)))
  bottomAxis.select('.domain').remove()
  bottomAxis.selectAll('line').attr('stroke', INK).attr('stroke-width', 1.5)
  bottomAxis.selectAll('text').attr('font-size', 17).call(inkText)

  // top ticks
  const topAxis = g.append('g')
    .attr('transform', `translate(0,${frameTop})`)
    .call(d3.axisBottom(p.x).tickValues(p.topTicks).tickSize(15).tickFormat(''))
  topAxis.select('.domain').remove()
  topAxis.selectAll('line').attr('stroke', INK).attr('stroke-width', 1.5)

  // axis titles
  g.append('text')
    .attr('x', (p.x(-12) + p.x(12)) / 2).attr('y', p.xTitleY)
    .attr('text-anchor', 'middle')
    .attr('font-size', 17)
    .call(inkText)
    .text('velocity (mm/s)')

  g.append('text')
    .attr('transform', `translate(${p.yTitleX},${p.yTitleY}) rotate(-90)`)
    .attr('text-anchor', 'middle')
    .attr('font-size', 16)
    .call(inkText)
    .text('transmission (arbitrary units)')
})

spectra.forEach(s => {
  const x = panels[s.panel].x
  // 1 transmission unit = 10 px, baseline (100) at s.base
  const y = d3.scaleLinear().domain([70, 100]).range([s.base + 300, s.base])
  const line = d3.line().x(d => x(d[0])).y(d => y(d[1])).curve(d3.curveMonotoneX)

  const g = svg.append('g')

  g.selectAll('.fit')
    .data(s.curves)
    .enter()
    .append('path')
    .attr('class', 'fit')
    .attr('d', line)
    .attr('fill', 'none')
    .attr('stroke', INK)
    .attr('stroke-width', 1.6)

  g.selectAll('.pt')
    .data(s.points)
    .enter()
    .append('circle')
    .attr('class', 'pt')
    .attr('cx', d => x(d[0]))
    .attr('cy', d => y(d[1]))
    .attr('r', 2.4)
    .attr('fill', INK)

  g.append('text')
    .attr('x', s.lx).attr('y', s.ly)
    .attr('font-size', 17)
    .call(inkText)
    .text(s.name)
})
</script>
</body>
</html>
